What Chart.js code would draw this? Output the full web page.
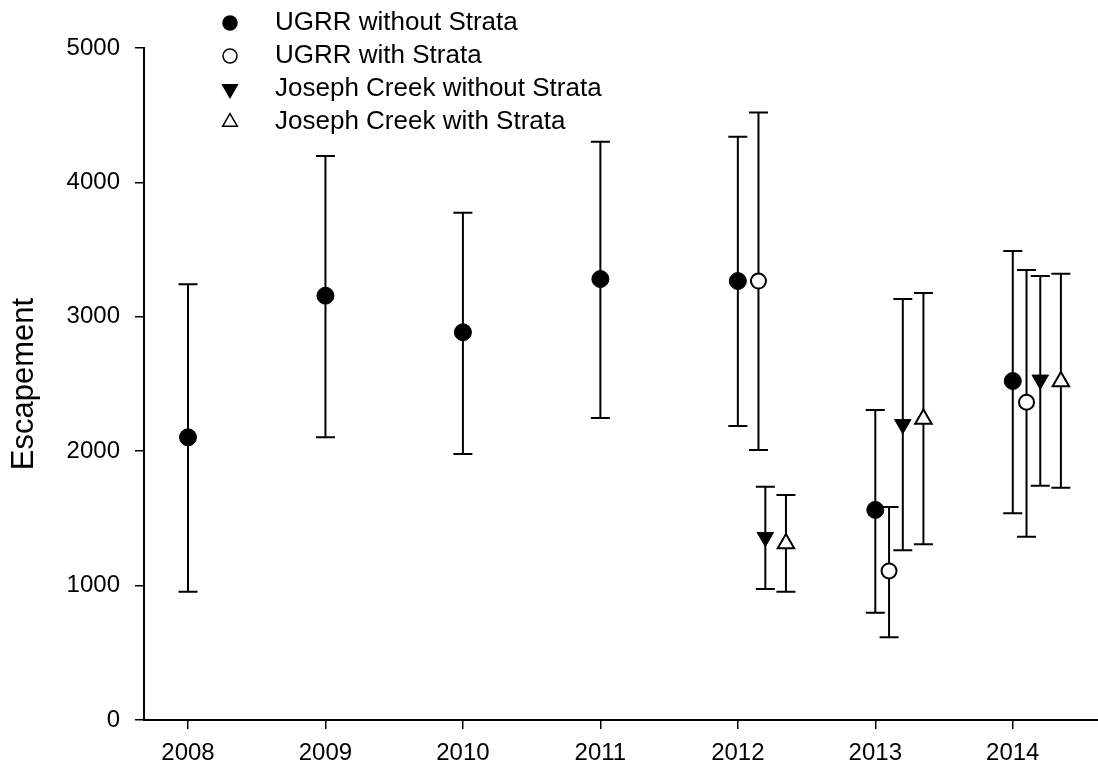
<!DOCTYPE html>
<html>
<head>
<meta charset="utf-8">
<script src="https://cdn.jsdelivr.net/npm/chart.js@4/dist/chart.umd.min.js"></script>
<style>
  html, body { margin: 0; padding: 0; background: #fff; }
  #wrap { width: 1098px; height: 772px; }
</style>
</head>
<body>
<div id="wrap"><canvas id="chart" width="1098" height="772"></canvas></div>
<script>
// Years on the x axis and y tick values
const years = [2008, 2009, 2010, 2011, 2012, 2013, 2014];
const yTicks = [0, 1000, 2000, 3000, 4000, 5000];

// UGRR without Strata
const ugrrNoX = [2008, 2009, 2010, 2011, 2012, 2013, 2014];
const ugrrNo = [2103, 3157, 2885, 3281, 3266, 1563, 2522];
const ugrrNoLo = [955, 2103, 1979, 2247, 2188, 798, 1538];
const ugrrNoHi = [3242, 4196, 3775, 4303, 4340, 2307, 3490];

// UGRR with Strata
const ugrrStX = [2012.15, 2013.1, 2014.1];
const ugrrSt = [3266, 1109, 2364];
const ugrrStLo = [2009, 615, 1364];
const ugrrStHi = [4521, 1585, 3348];

// Joseph Creek without Strata
const jcNoX = [2012.2, 2013.2, 2014.2];
const jcNo = [1360, 2200, 2531];
const jcNoLo = [975, 1263, 1743];
const jcNoHi = [1736, 3132, 3304];

// Joseph Creek with Strata
const jcStX = [2012.35, 2013.35, 2014.35];
const jcSt = [1314, 2239, 2519];
const jcStLo = [955, 1307, 1728];
const jcStHi = [1674, 3177, 3321];

const FONT = "'Liberation Sans', Arial, sans-serif";

function points(xs, ys) {
    return xs.map((x, i) => ({ x: x, y: ys[i] }));
}

// vertical error bars with caps, drawn under the markers
const errorBars = {
    id: 'errorBars',
    beforeDatasetsDraw(chart) {
        const ctx = chart.ctx;
        const y = chart.scales.y;
        const cap = 9.5;
        ctx.save();
        ctx.strokeStyle = '#000';
        ctx.lineWidth = 2;
        chart.data.datasets.forEach((ds, i) => {
            chart.getDatasetMeta(i).data.forEach((pt, j) => {
                const top = y.getPixelForValue(ds.hi[j]);
                const bot = y.getPixelForValue(ds.lo[j]);
                ctx.beginPath();
                ctx.moveTo(pt.x, top);
                ctx.lineTo(pt.x, bot);
                ctx.moveTo(pt.x - cap, top);
                ctx.lineTo(pt.x + cap, top);
                ctx.moveTo(pt.x - cap, bot);
                ctx.lineTo(pt.x + cap, bot);
                ctx.stroke();
            });
        });
        ctx.restore();
    }
};

// legend in the top-left corner, symbols drawn like the data markers
const cornerLegend = {
    id: 'cornerLegend',
    afterDraw(chart) {
        const ctx = chart.ctx;
        const symX = 230, textX = 275, rowY = [23, 56, 89, 122];
        ctx.save();
        ctx.font = '26px ' + FONT;
        ctx.textBaseline = 'middle';
        chart.data.datasets.forEach((ds, i) => {
            const yy = rowY[i];
            ctx.fillStyle = ds.backgroundColor;
            ctx.strokeStyle = '#000';
            ctx.lineWidth = 1.5;
            Chart.helpers.drawPoint(ctx, {
                pointStyle: ds.pointStyle,
                radius: ds.pointStyle === 'circle' ? 7 : 8.5,
                rotation: ds.rotation || 0,
                borderWidth: 1.5
            }, symX, yy);
            ctx.fillStyle = '#000';
            ctx.fillText(ds.label, textX, yy);
        });
        ctx.restore();
    }
};

const ctx = document.getElementById('chart');
new Chart(ctx, {
    type: 'scatter',
    data: {
        datasets: [
            {
                label: 'UGRR without Strata',
                data: points(ugrrNoX, ugrrNo), lo: ugrrNoLo, hi: ugrrNoHi,
                pointStyle: 'circle', pointRadius: 8.5,
                backgroundColor: '#000', borderColor: '#000', borderWidth: 1
            },
            {
                label: 'UGRR with Strata',
                data: points(ugrrStX, ugrrSt), lo: ugrrStLo, hi: ugrrStHi,
                pointStyle: 'circle', pointRadius: 7.5,
                backgroundColor: '#fff', borderColor: '#000', borderWidth: 2
            },
            {
                label: 'Joseph Creek without Strata',
                data: points(jcNoX, jcNo), lo: jcNoLo, hi: jcNoHi,
                pointStyle: 'triangle', pointRadius: 9.5, rotation: 180,
                backgroundColor: '#000', borderColor: '#000', borderWidth: 1
            },
            {
                label: 'Joseph Creek with Strata',
                data: points(jcStX, jcSt), lo: jcStLo, hi: jcStHi,
                pointStyle: 'triangle', pointRadius: 9.5,
                backgroundColor: '#fff', borderColor: '#000', borderWidth: 2
            }
        ]
    },
    options: {
        responsive: false,
        animation: false,
        devicePixelRatio: 1,
        layout: { autoPadding: false, padding: { top: 48, right: 0, left: 0, bottom: 0 } },
        plugins: {
            legend: { display: false },
            tooltip: { enabled: false }
        },
        elements: { point: { hoverRadius: 8 } },
        scales: {
            x: {
                type: 'linear',
                min: 2007.68,
                max: 2014.62,
                afterBuildTicks: s => { s.ticks = years.map(v => ({ value: v })); },
                afterFit: s => { s.height = 52; s.paddingLeft = 0; s.paddingRight = 0; },
                grid: { display: true, drawOnChartArea: false, drawTicks: true, tickLength: 9, color: '#000', lineWidth: 1.5 },
                border: { display: true, color: '#000', width: 2 },
                ticks: { color: '#000', padding: 10, font: { family: FONT, size: 24 }, callback: v => String(v), maxRotation: 0 }
            },
            y: {
                min: 0,
                max: 5000,
                afterBuildTicks: s => { s.ticks = yTicks.map(v => ({ value: v })); },
                afterFit: s => { s.width = 144; },
                grid: { display: true, drawOnChartArea: false, drawTicks: true, tickLength: 9, color: '#000', lineWidth: 1.5 },
                border: { display: true, color: '#000', width: 2 },
                ticks: { color: '#000', padding: 15, font: { family: FONT, size: 24 }, callback: v => String(v) },
                title: { display: true, text: 'Escapement', color: '#000', font: { family: FONT, size: 31 }, padding: { top: 6, bottom: 0 } }
            }
        }
    },
    plugins: [errorBars, cornerLegend]
});
</script>
</body>
</html>
